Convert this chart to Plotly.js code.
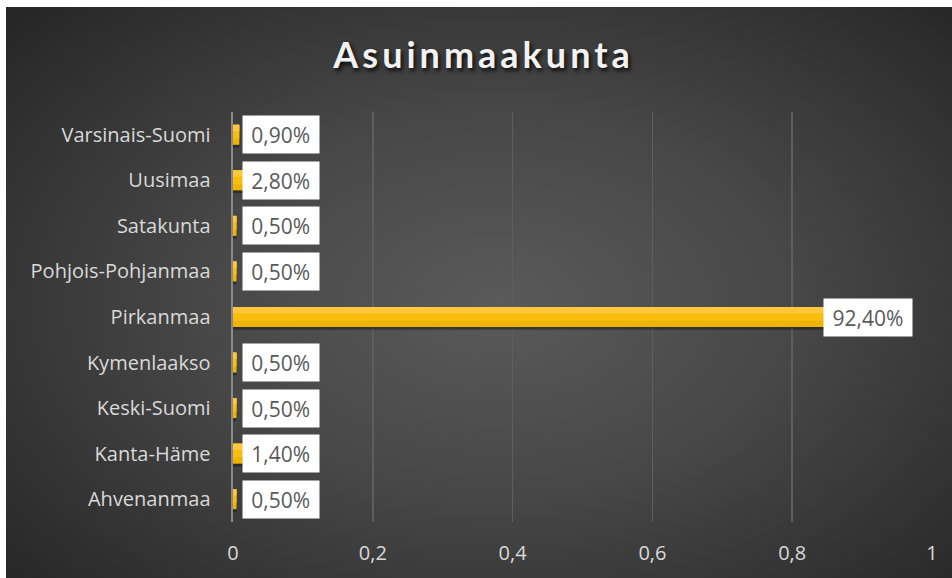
<!DOCTYPE html>
<html>
<head>
<meta charset="utf-8">
<script src="https://cdn.plot.ly/plotly-3.0.1.min.js"></script>
<style>
  html, body { margin: 0; padding: 0; background: #ffffff; }
  #bg { position: absolute; left: 6px; top: 7px; width: 946px; height: 571px;
        background: radial-gradient(ellipse 70% 75% at 52% 52%, #5a5a5a 0%, #474747 45%, #2f2f2f 85%, #262626 100%); }
  #chart { position: absolute; left: 0; top: 0; width: 952px; height: 578px; }
  .gtitle { letter-spacing: 4px; }
</style>
</head>
<body>
<div id="bg"></div>
<div id="chart"></div>
<script>
const categories = ["Ahvenanmaa", "Kanta-Häme", "Keski-Suomi", "Kymenlaakso", "Pirkanmaa",
                    "Pohjois-Pohjanmaa", "Satakunta", "Uusimaa", "Varsinais-Suomi"];
const values = [0.005, 0.014, 0.005, 0.005, 0.924, 0.005, 0.005, 0.028, 0.009];
const labels = ["0,50%", "1,40%", "0,50%", "0,50%", "92,40%", "0,50%", "0,50%", "2,80%", "0,90%"];
const xTicks = [0, 0.2, 0.4, 0.6, 0.8, 1];

const FONT = "Lato, 'Open Sans', sans-serif";
const TICKFONT = "'Open Sans', Lato, sans-serif";

const barShadow = { type: "bar", orientation: "h", y: categories, x: values,
  width: 0.08, offset: -0.28, marker: { color: "rgba(0,0,0,0.35)" }, hoverinfo: "skip" };
const barBase = { type: "bar", orientation: "h", y: categories, x: values,
  width: 0.44, offset: -0.22, marker: { color: "#efb300" }, hoverinfo: "skip" };
const barMid = { type: "bar", orientation: "h", y: categories, x: values,
  width: 0.30, offset: -0.08, marker: { color: "#f9bd10" }, hoverinfo: "skip" };
const barTop = { type: "bar", orientation: "h", y: categories, x: values,
  width: 0.14, offset: 0.08, marker: { color: "#ffc83c" }, hoverinfo: "skip" };

const annotations = categories.map((c, i) => ({
  x: Math.max(values[i] - 0.08, 0.013),
  y: c,
  xref: "x", yref: "y",
  xanchor: "left", yanchor: "middle",
  text: labels[i],
  showarrow: false,
  bgcolor: "#ffffff",
  borderpad: 4,
  width: labels[i].length * 12.5 + 5,
  height: 29,
  align: "center",
  font: { family: TICKFONT, size: 21, color: "#595959" }
}));

const layout = {
  width: 952, height: 578,
  paper_bgcolor: "rgba(0,0,0,0)",
  plot_bgcolor: "rgba(0,0,0,0)",
  separators: ", ",
  barmode: "overlay",
  showlegend: false,
  margin: { l: 233, r: 20, t: 112, b: 56, pad: 0 },
  title: {
    text: "<b>Asuinmaakunta</b>",
    xref: "container", yref: "container",
    x: 0.508, xanchor: "center",
    y: 0.905, yanchor: "middle",
    font: { family: FONT, size: 36, color: "#f2f2f2", shadow: "2px 3px 4px rgba(0,0,0,0.85)" }
  },
  xaxis: {
    range: [0, 1],
    tickvals: xTicks,
    showgrid: true, gridcolor: "#5e5e5e", gridwidth: 1.5,
    zeroline: false,
    showline: false,
    ticks: "",
    ticklabelstandoff: 17,
    tickfont: { family: TICKFONT, size: 20, color: "#d9d9d9" },
    fixedrange: true
  },
  yaxis: {
    type: "category",
    categoryorder: "array", categoryarray: categories,
    showgrid: false,
    showline: true, linecolor: "#8a8a8a", linewidth: 2.5,
    ticks: "",
    ticklabelstandoff: 16,
    tickfont: { family: TICKFONT, size: 20, color: "#d9d9d9" },
    fixedrange: true
  },
  annotations: annotations
};

Plotly.newPlot("chart", [barShadow, barBase, barMid, barTop], layout, { displayModeBar: false, staticPlot: true });
</script>
</body>
</html>
